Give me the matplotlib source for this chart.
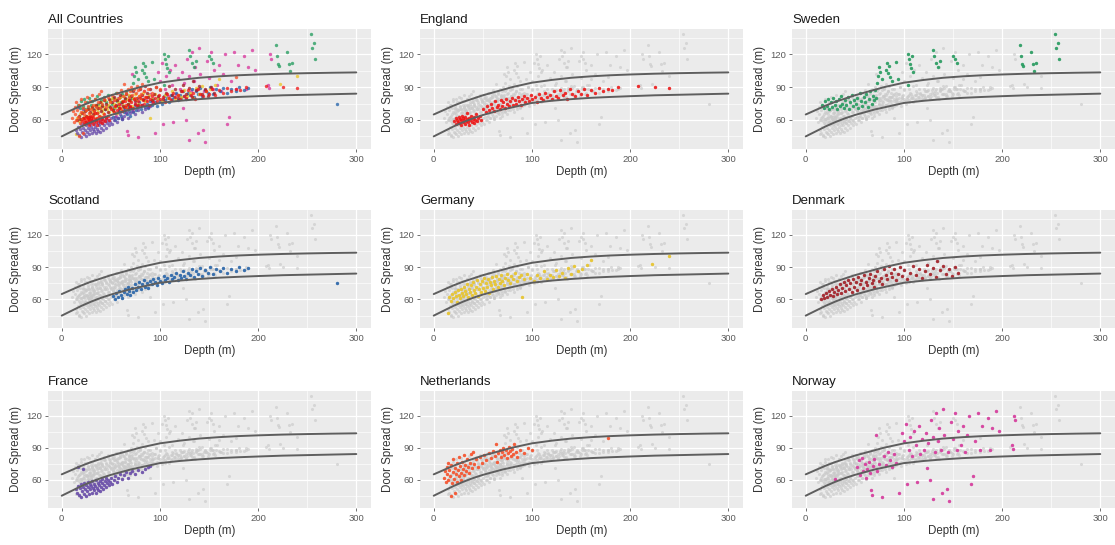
import matplotlib
matplotlib.use("Agg")
import matplotlib.pyplot as plt

plt.rcParams['font.family'] = ['Liberation Sans', 'DejaVu Sans']

# Fitted envelope curves (door spread against depth)
CURVE_DEPTH = [0, 10, 20, 30, 40, 50, 60, 70, 80, 90, 100, 120, 140, 160,
               180, 200, 225, 250, 275, 300]
UPPER_SPREAD = [65, 69, 73, 76.5, 79.5, 82.5, 85, 87.5, 90, 92, 94, 96.5,
                98.5, 99.8, 100.8, 101.5, 102.2, 102.7, 103.1, 103.4]
LOWER_SPREAD = [45, 49.5, 54, 58, 61.5, 64.5, 67, 69.5, 71.5, 73.5, 75.5,
                77.5, 79, 80.2, 81, 81.7, 82.5, 83, 83.5, 84]

# Hauls per country: (depth m, door spread m)
ENGLAND = [(21, 59), (23, 56), (23, 62), (24, 60), (25, 58), (26, 63), (26, 57), (27, 61),
           (28, 55), (28, 60), (29, 64), (30, 58), (30, 62), (31, 60), (32, 56), (32, 63),
           (33, 59), (34, 61), (34, 66), (35, 58), (36, 62), (36, 55), (37, 60), (38, 64),
           (39, 58), (40, 61), (41, 63), (41, 57), (42, 60), (43, 65), (44, 59), (45, 62),
           (47, 64), (48, 60),
           (50, 70), (53, 67), (54, 73), (56, 69), (58, 75), (59, 71), (61, 68), (62, 77),
           (64, 72), (65, 74), (67, 70), (68, 78), (70, 73), (71, 76), (73, 71), (74, 79),
           (75, 75), (77, 73), (78, 77), (80, 80), (81, 74), (83, 78), (84, 75), (86, 81),
           (87, 77), (89, 74), (90, 79), (92, 82), (93, 76), (95, 80), (97, 77), (99, 83),
           (100, 79), (103, 81), (105, 76), (107, 84), (109, 80), (111, 78), (113, 85),
           (115, 81), (118, 83), (120, 79), (122, 86), (125, 82), (127, 80), (129, 87),
           (132, 83), (134, 85), (136, 79), (139, 88), (141, 84), (144, 82), (147, 86),
           (150, 84), (153, 88), (156, 83), (160, 87), (164, 85), (168, 89), (172, 86),
           (177, 88), (182, 87), (188, 90), (208, 91), (225, 90), (240, 89)]

SWEDEN = [(17, 74), (19, 71), (20, 77), (22, 73), (23, 79), (24, 70), (26, 76), (27, 72),
          (28, 80), (30, 74), (31, 77), (32, 70), (34, 79), (35, 73), (36, 82), (37, 75),
          (39, 71), (40, 78), (41, 74), (43, 81), (44, 70), (45, 76), (47, 83), (48, 73),
          (49, 78), (51, 75), (52, 80), (53, 71), (55, 85), (56, 77), (57, 73), (59, 81),
          (60, 76), (61, 84), (63, 72), (64, 79), (65, 86), (67, 75), (68, 82), (70, 78),
          (71, 87), (72, 80),
          (73, 94), (74, 100), (75, 108), (76, 104), (78, 97), (82, 106), (83, 112),
          (84, 103), (85, 109), (86, 99), (88, 96), (92, 113), (94, 97), (104, 120),
          (105, 116), (106, 111), (107, 107), (108, 118), (109, 104), (104, 92),
          (130, 124), (131, 118), (133, 112), (135, 108), (137, 114), (150, 118),
          (152, 116), (154, 112), (218, 128), (219, 118), (220, 111), (221, 109),
          (229, 122), (231, 111), (233, 105), (235, 112), (254, 138), (255, 126),
          (257, 130), (258, 116)]

SCOTLAND = [(52, 63), (54, 60), (55, 66), (57, 62), (58, 68), (60, 64), (61, 61), (63, 67),
            (64, 70), (66, 65), (67, 72), (69, 68), (70, 64), (72, 71), (73, 67), (75, 74),
            (76, 69), (78, 72), (79, 76), (81, 70), (82, 74), (84, 78), (85, 72), (87, 75),
            (88, 71), (90, 77), (92, 74), (93, 79), (95, 76), (97, 73), (98, 80), (100, 77),
            (102, 75), (104, 82), (105, 78), (107, 80), (109, 76), (111, 83), (112, 79),
            (114, 81), (116, 85), (118, 78), (120, 83), (121, 80), (123, 86), (125, 82),
            (127, 79), (129, 85), (131, 83), (133, 88), (135, 81), (137, 86), (139, 84),
            (141, 89), (143, 82), (146, 87), (149, 85), (151, 90), (154, 84), (157, 88),
            (161, 86), (164, 89), (168, 85), (172, 88), (177, 86), (181, 90), (186, 87),
            (190, 89), (280, 75)]

GERMANY = [(15, 47), (16, 62), (18, 59), (19, 65), (20, 61), (22, 67), (23, 63), (24, 58),
           (25, 69), (26, 64), (27, 61), (28, 70), (29, 66), (30, 63), (31, 72), (32, 68),
           (33, 65), (34, 74), (35, 62), (36, 70), (37, 67), (38, 73), (39, 64), (40, 76),
           (41, 69), (42, 66), (43, 72), (44, 78), (45, 63), (46, 70), (47, 74), (48, 67),
           (49, 77), (50, 71), (51, 80), (52, 68), (53, 75), (54, 72), (55, 79), (56, 66),
           (57, 76), (58, 73), (59, 81), (60, 70), (61, 77), (62, 74), (63, 82), (65, 72),
           (66, 79), (67, 75), (69, 83), (70, 77), (72, 73), (73, 80), (75, 84), (76, 78),
           (78, 75), (79, 82), (81, 79), (83, 85), (85, 77), (87, 81), (89, 83), (90, 62),
           (92, 79), (95, 84), (98, 80), (102, 77), (105, 83), (108, 80), (112, 86),
           (115, 79), (118, 83), (121, 81), (125, 87), (128, 82), (131, 85), (134, 80),
           (137, 89), (140, 84), (143, 91), (147, 86), (151, 88), (156, 92), (160, 97),
           (222, 93), (240, 100)]

DENMARK = [(16, 60), (18, 64), (19, 61), (21, 66), (22, 62), (24, 68), (25, 64), (27, 70),
           (28, 63), (29, 67), (31, 72), (32, 65), (33, 69), (35, 74), (36, 66), (37, 71),
           (39, 76), (40, 68), (41, 73), (43, 78), (44, 70), (45, 75), (47, 67), (48, 79),
           (49, 72), (51, 76), (52, 69), (53, 81), (55, 74), (56, 78), (58, 71), (59, 83),
           (61, 76), (62, 73), (64, 80), (65, 84), (67, 75), (68, 78), (70, 72), (71, 82),
           (73, 86), (75, 77), (77, 80), (78, 74), (80, 88), (82, 83), (83, 79), (85, 91),
           (87, 85), (88, 81), (90, 88), (92, 78), (94, 84), (96, 90), (98, 82), (100, 87),
           (103, 79), (106, 85), (109, 91), (112, 83), (115, 88), (118, 80), (121, 86),
           (124, 92), (127, 84), (130, 89), (133, 81), (134, 96), (137, 87), (140, 91),
           (143, 84), (146, 88), (149, 82), (152, 90), (155, 85)]

FRANCE = [(15, 51), (16, 48), (17, 54), (18, 46), (19, 52), (20, 56), (20, 44), (21, 49),
          (22, 53), (23, 47), (23, 57), (24, 51), (25, 55), (25, 45), (26, 49), (27, 53),
          (27, 58), (28, 47), (29, 51), (29, 56), (30, 54), (31, 48), (31, 59), (32, 52),
          (33, 56), (33, 50), (34, 54), (35, 48), (35, 60), (36, 52), (37, 57), (37, 50),
          (38, 55), (39, 59), (39, 49), (40, 53), (41, 57), (41, 61), (42, 51), (43, 55),
          (44, 59), (45, 53), (45, 62), (46, 57), (47, 60), (48, 55), (49, 58), (50, 62),
          (51, 56), (53, 60), (54, 63), (56, 58), (57, 62), (59, 65), (61, 61), (63, 64),
          (65, 67), (67, 62), (70, 66), (72, 68), (75, 65), (78, 69), (82, 67), (85, 70),
          (88, 72), (90, 73), (17, 72), (22, 70)]

NETHERLANDS = [(10, 62), (11, 68), (12, 58), (13, 72), (14, 65), (15, 76), (15, 60),
               (16, 69), (17, 63), (18, 74), (18, 45), (19, 57), (20, 67), (20, 79),
               (21, 61), (22, 71), (22, 48), (23, 65), (24, 76), (24, 58), (25, 69),
               (26, 63), (26, 81), (27, 73), (28, 66), (28, 60), (29, 77), (30, 70),
               (31, 64), (31, 83), (32, 74), (33, 68), (34, 79), (35, 72), (36, 66),
               (37, 76), (38, 84), (39, 71), (40, 86), (41, 75), (43, 79), (45, 72),
               (47, 81), (49, 76), (51, 83), (53, 78), (56, 85), (58, 80), (60, 87),
               (62, 82), (63, 93), (64, 77), (65, 85), (67, 88), (68, 81), (70, 86),
               (71, 90), (72, 83), (74, 88), (75, 80), (76, 85), (77, 91), (78, 87),
               (79, 82), (80, 89), (81, 84), (82, 93), (84, 86), (85, 81), (88, 88),
               (92, 85), (96, 90), (100, 88), (178, 99)]

NORWAY = [(30, 61), (52, 72), (54, 78), (55, 64), (57, 80), (58, 68), (60, 75), (61, 62),
          (62, 70), (64, 77), (65, 66), (66, 50), (67, 46), (68, 73), (70, 79), (72, 102),
          (73, 68), (75, 75), (78, 44), (80, 82), (82, 74), (84, 86), (86, 78), (88, 72),
          (90, 84), (92, 76), (95, 48), (98, 104), (100, 96), (102, 112), (103, 56),
          (105, 88), (106, 100), (108, 82), (110, 106), (112, 92), (113, 58), (115, 110),
          (116, 84), (118, 98), (120, 88), (122, 104), (124, 71), (125, 94), (127, 60),
          (128, 116), (130, 42), (130, 100), (132, 86), (133, 122), (135, 96), (136, 108),
          (138, 88), (139, 48), (140, 126), (141, 102), (144, 51), (145, 86), (146, 40),
          (148, 114), (150, 98), (152, 122), (154, 88), (155, 106), (158, 92), (160, 110),
          (162, 86), (164, 102), (166, 120), (168, 56), (170, 63), (172, 96), (175, 122),
          (178, 88), (180, 110), (186, 118), (188, 88), (190, 108), (194, 124), (197, 106),
          (210, 92), (211, 89), (212, 120), (213, 116)]

DATA = {
    "England": ENGLAND, "Sweden": SWEDEN, "Scotland": SCOTLAND, "Germany": GERMANY,
    "Denmark": DENMARK, "France": FRANCE, "Netherlands": NETHERLANDS, "Norway": NORWAY,
}
COLORS = {
    "England": "#F01010", "Sweden": "#1E9A5A", "Scotland": "#1F5FA8", "Germany": "#EBC520",
    "Denmark": "#A0141C", "France": "#6446A8", "Netherlands": "#FA4A22", "Norway": "#D8309A",
}
# Drawing order in the combined panel (last on top)
STACK_ORDER = ["Norway", "Sweden", "Scotland", "Germany", "Denmark", "France",
               "Netherlands", "England"]
PANELS = ["All Countries", "England", "Sweden",
          "Scotland", "Germany", "Denmark",
          "France", "Netherlands", "Norway"]

W, H = 1115, 545
fig = plt.figure(figsize=(W / 100, H / 100), dpi=100)

col_left = [48, 420, 792]
panel_w = 323
row_top = [29, 210, 391]
row_h = [120, 118, 117]

all_pts = [p for name in STACK_ORDER for p in DATA[name]]
grey_x = [p[0] for p in all_pts]
grey_y = [p[1] for p in all_pts]

tick_col = "#5A5A5A"

for i, title in enumerate(PANELS):
    r, c = divmod(i, 3)
    left = col_left[c] / W
    bottom = 1 - (row_top[r] + row_h[r]) / H
    ax = fig.add_axes([left, bottom, panel_w / W, row_h[r] / H])
    ax.set_facecolor("#EBEBEB")
    for s in ax.spines.values():
        s.set_visible(False)

    ax.set_xlim(-14, 315)
    ax.set_ylim(33.5, 143)
    ax.set_xticks([0, 100, 200, 300])
    ax.set_xticks([50, 150, 250], minor=True)
    ax.set_yticks([60, 90, 120])
    ax.set_yticks([45, 75, 105, 135], minor=True)
    ax.grid(which="major", color="white", lw=0.9)
    ax.grid(which="minor", color="white", lw=0.45)
    ax.set_axisbelow(True)
    ax.tick_params(which="major", length=2.5, width=0.6, color=tick_col,
                   labelsize=6.8, labelcolor=tick_col, pad=2)
    ax.tick_params(which="minor", length=0)

    if title == "All Countries":
        for name in STACK_ORDER:
            xs = [p[0] for p in DATA[name]]
            ys = [p[1] for p in DATA[name]]
            ax.scatter(xs, ys, s=6, color=COLORS[name], alpha=0.75,
                       linewidths=0, zorder=2)
    else:
        ax.scatter(grey_x, grey_y, s=5, color="#CACACA", alpha=0.65,
                   linewidths=0, zorder=2)
        xs = [p[0] for p in DATA[title]]
        ys = [p[1] for p in DATA[title]]
        ax.scatter(xs, ys, s=6, color=COLORS[title], alpha=0.85,
                   linewidths=0, zorder=3)

    ax.plot(CURVE_DEPTH, UPPER_SPREAD, color="#5E5E5E", lw=1.4, zorder=4,
            solid_capstyle="round")
    ax.plot(CURVE_DEPTH, LOWER_SPREAD, color="#5E5E5E", lw=1.4, zorder=4,
            solid_capstyle="round")

    ax.set_title(title, loc="left", fontsize=9.5, color="#1A1A1A", pad=4)
    ax.set_xlabel("Depth (m)", fontsize=8.3, color="#333333", labelpad=1.5)
    ax.set_ylabel("Door Spread (m)", fontsize=8.3, color="#333333", labelpad=2.5)

fig.savefig("out.png", dpi=100, facecolor="white")
